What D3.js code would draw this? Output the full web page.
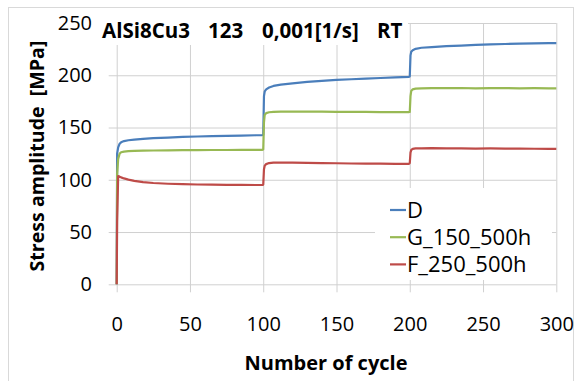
<!DOCTYPE html>
<html>
<head>
<meta charset="utf-8">
<script src="https://cdn.jsdelivr.net/npm/d3@7"></script>
<style>
  body { margin: 0; background: #fff; }
  svg { display: block; font-family: "Open Sans", sans-serif; }
</style>
</head>
<body>
<div class="stress-graph"></div>
<script>
"use strict";

// cycle numbers shared by the three series
const cycles = [
  0, 0.3, 1, 2, 3, 5, 8, 12, 18, 25, 35, 45, 55, 65, 75, 85, 95, 99.5, 100,
  100.5, 101, 102, 104, 107, 112, 120, 130, 140, 150, 160, 170, 180, 190, 199.5, 200,
  200.5, 201, 202, 204, 208, 215, 225, 235, 245, 255, 265, 275, 285, 295, 300,
];

const stressD = [
  0, 125, 131, 134.5, 135.8, 137, 137.8, 138.5, 139.2, 139.8, 140.4, 141, 141.4, 141.7, 142, 142.3, 142.6, 142.8, 143,
  180, 184.5, 186.5, 188.3, 189.8, 191, 192.3, 193.6, 194.6, 195.5, 196.2, 196.8, 197.4, 198, 198.5, 198.8,
  219, 222.5, 224, 225.3, 226.3, 227, 227.8, 228.4, 229, 229.5, 229.9, 230.3, 230.6, 230.8, 230.8,
];

const stressG = [
  0, 105, 120, 125, 126.3, 127, 127.4, 127.6, 127.8, 128, 128.2, 128.3, 128.4, 128.5, 128.5, 128.6, 128.6, 128.7, 129,
  155, 162, 163.8, 164.6, 165, 165.2, 165.3, 165.2, 165.2, 165, 165, 164.9, 164.8, 164.8, 164.8, 165,
  180, 185, 186.5, 187.2, 187.5, 187.7, 187.6, 187.8, 187.5, 187.6, 187.7, 187.5, 187.6, 187.5, 187.5,
];

const stressF = [
  0, 60, 103.5, 103, 102.3, 101.3, 100.2, 99, 97.8, 96.9, 96.2, 95.8, 95.5, 95.3, 95.2, 95.1, 95, 95, 95.5,
  110, 113.5, 115, 116, 116.5, 116.5, 116.4, 116.2, 116, 115.8, 115.6, 115.5, 115.4, 115.3, 115.2, 116,
  126, 128.5, 129.5, 130, 130.1, 130.2, 130, 130.1, 129.9, 130, 129.8, 129.9, 129.7, 129.6, 129.5,
];

const seriesNames = ["D", "G_150_500h", "F_250_500h"];
const seriesColors = ["#4a7ebb", "#98b954", "#be4b48"];
const xTicks = [0, 50, 100, 150, 200, 250, 300];
const yTicks = [0, 50, 100, 150, 200, 250];

// title words, set apart by wide gaps in the original
const titleParts = ["AlSi8Cu3", "123", "0,001[1/s]", "RT"];

const series = [stressD, stressG, stressF].map((values, i) => ({
  name: seriesNames[i],
  color: seriesColors[i],
  points: cycles.map((c, j) => ({ cycle: c, stress: values[j] })),
}));

const margin = { top: 23, right: 18.7, bottom: 96.7, left: 116.7 };
const width = 575 - margin.left - margin.right;
const height = 381 - margin.top - margin.bottom;
const gridColor = "#d0d0d0";

const root = d3
  .select(".stress-graph")
  .append("svg")
  .attr("width", 575)
  .attr("height", 381);

// outer chart border
root
  .append("rect")
  .attr("x", 8.5)
  .attr("y", 7.5)
  .attr("width", 565)
  .attr("height", 400)
  .attr("fill", "none")
  .attr("stroke", "#d9d9d9");

const svg = root
  .append("g")
  .attr("transform", `translate(${margin.left},${margin.top})`);

const x = d3.scaleLinear().domain([0, 300]).range([0, width]);
const y = d3.scaleLinear().domain([0, 250]).range([height, 0]);

const xAxis = d3
  .axisBottom(x)
  .tickValues(xTicks)
  .tickSizeInner(-(height + 8))
  .tickSizeOuter(0)
  .tickPadding(25);

const yAxis = d3
  .axisLeft(y)
  .tickValues(yTicks)
  .tickSizeInner(-(width + 8))
  .tickSizeOuter(0)
  .tickPadding(16.7);

svg
  .append("g")
  .attr("class", "axis x-axis")
  .attr("transform", `translate(0, ${height + 8})`)
  .call(xAxis)
  .call((g) => g.select(".domain").remove());

svg
  .append("g")
  .attr("class", "axis y-axis")
  .attr("transform", "translate(-8, 0)")
  .call(yAxis)
  .call((g) => g.select(".domain").remove());

svg.selectAll(".tick line").attr("stroke", gridColor).attr("stroke-width", 1);
svg
  .selectAll(".tick text")
  .attr("font-family", "Open Sans")
  .attr("font-size", "20px")
  .attr("fill", "#000");

// the lines
const line = d3
  .line()
  .x((d) => x(d.cycle))
  .y((d) => y(d.stress));

svg
  .selectAll("path.series")
  .data(series)
  .join("path")
  .attr("class", "series")
  .attr("fill", "none")
  .attr("stroke", (d) => d.color)
  .attr("stroke-width", 2.2)
  .attr("stroke-linejoin", "round")
  .attr("d", (d) => line(d.points));

// title with its white box
root
  .append("rect")
  .attr("x", 98)
  .attr("y", 10)
  .attr("width", 310)
  .attr("height", 35)
  .attr("fill", "#fff");

const titleX = [102, 208, 262, 377];

root
  .append("text")
  .attr("y", 38)
  .attr("font-weight", 700)
  .attr("font-size", "20.5px")
  .selectAll("tspan")
  .data(titleParts)
  .join("tspan")
  .attr("x", (d, i) => titleX[i])
  .text((d) => d);

// axis titles
root
  .append("text")
  .attr("x", 326)
  .attr("y", 370)
  .attr("text-anchor", "middle")
  .attr("font-weight", 700)
  .attr("font-size", "20px")
  .text("Number of cycle");

root
  .append("text")
  .attr("transform", "translate(44, 156) rotate(-90)")
  .attr("text-anchor", "middle")
  .attr("font-weight", 700)
  .attr("font-size", "19.6px")
  .style("white-space", "pre")
  .text("Stress amplitude  [MPa]");

// legend
const legend = root.append("g").attr("transform", "translate(375, 188)");

legend
  .append("rect")
  .attr("width", 177)
  .attr("height", 92)
  .attr("fill", "#fff");

const entry = legend
  .selectAll("g.entry")
  .data(series)
  .join("g")
  .attr("class", "entry")
  .attr("transform", (d, i) => `translate(0, ${22 + i * 27.2})`);

entry
  .append("line")
  .attr("x1", 15)
  .attr("x2", 31)
  .attr("stroke", (d) => d.color)
  .attr("stroke-width", 2.2);

entry
  .append("text")
  .attr("x", 32)
  .attr("dy", "0.36em")
  .attr("font-size", "22px")
  .text((d) => d.name);
</script>
</body>
</html>
